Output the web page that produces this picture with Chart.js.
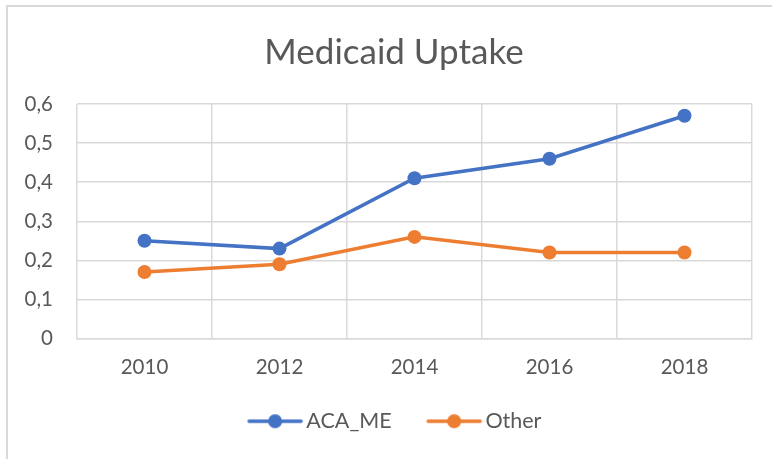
<!DOCTYPE html>
<html>
<head>
<meta charset="utf-8">
<script src="https://cdn.jsdelivr.net/npm/chart.js@4.4.1/dist/chart.umd.min.js"></script>
<style>
    html, body { margin: 0; padding: 0; background: #ffffff; }
    #wrap { width: 772px; height: 459px; position: relative; }
</style>
</head>
<body>
<div id="wrap"><canvas id="chart" width="772" height="459"></canvas></div>
<script>
// Data
var years = ["2010", "2012", "2014", "2016", "2018"];
var acaMe = [0.25, 0.23, 0.41, 0.46, 0.57];
var other = [0.17, 0.19, 0.26, 0.22, 0.22];
var yTickLabels = ["0", "0,1", "0,2", "0,3", "0,4", "0,5", "0,6"];

var blue = "#4472C4";
var orange = "#ED7D31";
var textGrey = "#595959";
var gridGrey = "#d9d9d9";
var fontName = "Lato, 'Open Sans', sans-serif";

// legend marker: line with a dot in the middle (image is wider than the legend box on purpose)
function legendIcon(color) {
    var c = document.createElement("canvas");
    c.width = 90;
    c.height = 16;
    var g = c.getContext("2d");
    g.strokeStyle = color;
    g.lineWidth = 3.5;
    g.lineCap = "round";
    g.beginPath();
    g.moveTo(35, 8);
    g.lineTo(87, 8);
    g.stroke();
    g.fillStyle = color;
    g.beginPath();
    g.arc(61, 8, 7, 0, Math.PI * 2);
    g.fill();
    return c;
}
var icons = [legendIcon(blue), legendIcon(orange)];

// outer frame like the Excel chart border (top and left only visible)
var framePlugin = {
    id: "frame",
    afterLayout: function (chart) {
        // Excel centres title/legend on the full chart, which runs past the right edge
        if (chart.titleBlock) {
            chart.titleBlock.left += 18;
            chart.titleBlock.right += 18;
        }
        if (chart.legend) {
            chart.legend.left += 6;
            chart.legend.right += 6;
        }
    },
    beforeDraw: function (chart) {
        var ctx = chart.ctx;
        ctx.save();
        ctx.fillStyle = "#ffffff";
        ctx.fillRect(0, 0, chart.width, chart.height);
        ctx.strokeStyle = gridGrey;
        ctx.lineWidth = 2;
        ctx.beginPath();
        ctx.moveTo(7, chart.height);
        ctx.lineTo(7, 6);
        ctx.lineTo(chart.width, 6);
        ctx.stroke();
        ctx.restore();
    }
};

var ctx = document.getElementById("chart").getContext("2d");
var myChart = new Chart(ctx, {
    type: "line",
    data: {
        labels: years,
        datasets: [{
            label: "ACA_ME",
            data: acaMe,
            borderColor: blue,
            backgroundColor: blue,
            borderWidth: 3.5,
            pointRadius: 7,
            pointHoverRadius: 7,
            pointBorderWidth: 0,
            tension: 0
        },
            {
                label: "Other",
                data: other,
                borderColor: orange,
                backgroundColor: orange,
                borderWidth: 3.5,
                pointRadius: 7,
                pointHoverRadius: 7,
                pointBorderWidth: 0,
                tension: 0
            }
        ]
    },
    options: {
        responsive: false,
        animation: false,
        layout: {
            padding: {left: 0, right: 20, top: 0, bottom: 17}
        },
        plugins: {
            title: {
                display: true,
                text: "Medicaid Uptake",
                color: textGrey,
                font: {family: fontName, size: 35, weight: "normal"},
                padding: {top: 32, bottom: 30}
            },
            legend: {
                position: "bottom",
                labels: {
                    color: textGrey,
                    font: {family: fontName, size: 21.5},
                    usePointStyle: true,
                    pointStyleWidth: 73,
                    boxHeight: 16,
                    padding: 10,
                    generateLabels: function (chart) {
                        var items = Chart.defaults.plugins.legend.labels.generateLabels(chart);
                        items.forEach(function (item, i) {
                            item.pointStyle = icons[i];
                        });
                        return items;
                    }
                }
            },
            tooltip: {enabled: false}
        },
        scales: {
            x: {
                offset: true,
                grid: {
                    offset: true,
                    color: gridGrey,
                    lineWidth: 1.5,
                    drawTicks: false
                },
                border: {color: gridGrey, width: 1.5},
                ticks: {
                    color: textGrey,
                    font: {family: fontName, size: 20.5},
                    padding: 17
                },
                afterFit: function (scale) {
                    scale.height = 62;
                }
            },
            y: {
                min: 0,
                max: 0.6,
                grid: {
                    color: gridGrey,
                    lineWidth: 1.5,
                    drawTicks: false
                },
                border: {display: false},
                ticks: {
                    stepSize: 0.1,
                    color: textGrey,
                    font: {family: fontName, size: 20.5},
                    padding: 24,
                    callback: function (value, index) {
                        return yTickLabels[index];
                    }
                },
                afterFit: function (scale) {
                    scale.width = 77;
                }
            }
        }
    },
    plugins: [framePlugin]
});
</script>
</body>
</html>
